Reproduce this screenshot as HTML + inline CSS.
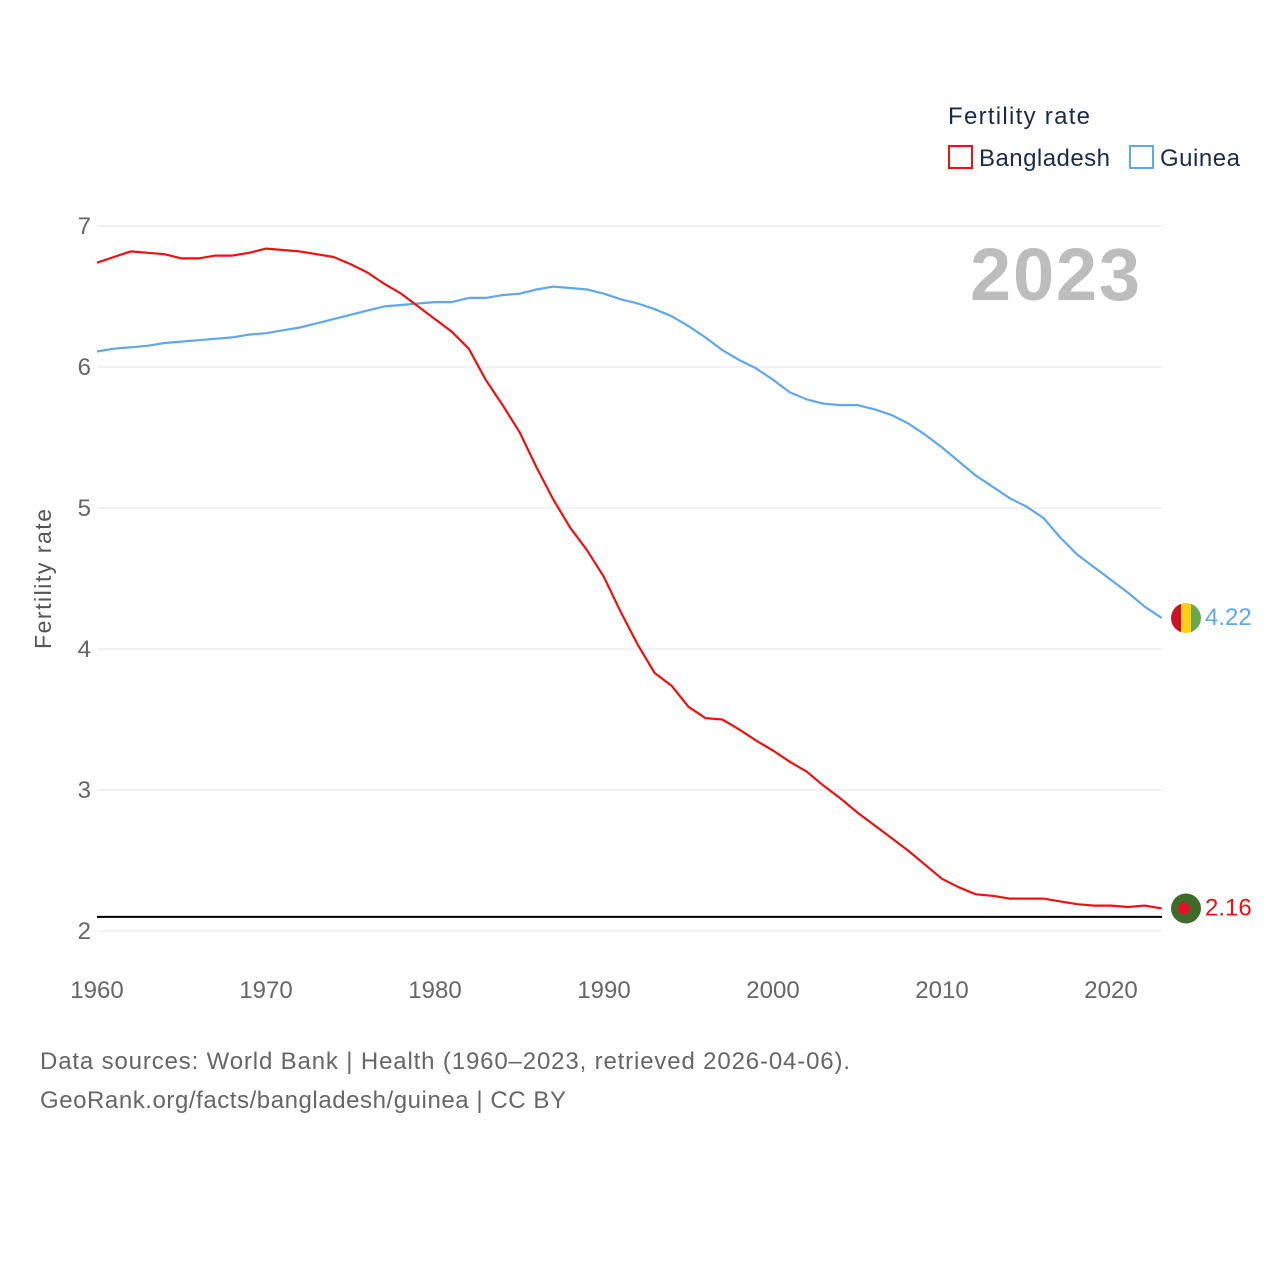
<!DOCTYPE html>
<html><head><meta charset="utf-8">
<style>
body{margin:0;background:#fff;font-family:"Liberation Sans",sans-serif;}
svg text{font-family:"Liberation Sans",sans-serif;}
</style></head>
<body>
<svg id="chart" width="1280" height="1280" viewBox="0 0 1280 1280" xmlns="http://www.w3.org/2000/svg">
<rect width="1280" height="1280" fill="#fff"/>
<text x="948" y="124" font-size="24" fill="#1a2b4a" textLength="142">Fertility rate</text>
<rect x="949" y="146" width="23" height="22" fill="none" stroke="#ee1111" stroke-width="2"/>
<text x="979" y="166" font-size="24" fill="#1a2b4a" textLength="131">Bangladesh</text>
<rect x="1130" y="146" width="23" height="22" fill="none" stroke="#5fa8ec" stroke-width="2"/>
<text x="1160" y="166" font-size="24" fill="#1a2b4a" textLength="80">Guinea</text>
<text x="1140" y="300" font-size="74" font-weight="bold" fill="#bdbdbd" text-anchor="end" textLength="170">2023</text>
<text transform="translate(51,579) rotate(-90)" font-size="23" fill="#555" text-anchor="middle" textLength="140">Fertility rate</text>
<g id="grid"></g>
<g id="lines"></g>
<text x="40" y="1069" font-size="24" fill="#666" textLength="810">Data sources: World Bank | Health (1960–2023, retrieved 2026-04-06).</text>
<text x="40" y="1108" font-size="24" fill="#666" textLength="526">GeoRank.org/facts/bangladesh/guinea | CC BY</text>
</svg>
<script>
const years=[];for(let y=1960;y<=2023;y++)years.push(y);
const bangladesh=[6.74,6.78,6.82,6.81,6.80,6.77,6.77,6.79,6.79,6.81,6.84,6.83,6.82,6.80,6.78,6.73,6.67,6.59,6.52,6.43,6.34,6.25,6.13,5.91,5.73,5.54,5.29,5.06,4.86,4.70,4.51,4.26,4.03,3.83,3.74,3.59,3.51,3.50,3.43,3.35,3.28,3.20,3.13,3.03,2.94,2.84,2.75,2.66,2.57,2.47,2.37,2.31,2.26,2.25,2.23,2.23,2.23,2.21,2.19,2.18,2.18,2.17,2.18,2.16];
const guinea=[6.11,6.13,6.14,6.15,6.17,6.18,6.19,6.20,6.21,6.23,6.24,6.26,6.28,6.31,6.34,6.37,6.40,6.43,6.44,6.45,6.46,6.46,6.49,6.49,6.51,6.52,6.55,6.57,6.56,6.55,6.52,6.48,6.45,6.41,6.36,6.29,6.21,6.12,6.05,5.99,5.91,5.82,5.77,5.74,5.73,5.73,5.70,5.66,5.60,5.52,5.43,5.33,5.23,5.15,5.07,5.01,4.93,4.79,4.67,4.58,4.49,4.40,4.30,4.22];
const yTicks=[2,3,4,5,6,7];
const xTicks=[1960,1970,1980,1990,2000,2010,2020];
const replacementRate=2.1;
const NS="http://www.w3.org/2000/svg";
const xs=y=>97+(y-1960)*(1014/60);
const ys=v=>931-(v-2)*141;
function mk(t,a,p){const e=document.createElementNS(NS,t);for(const k in a)e.setAttribute(k,a[k]);p.appendChild(e);return e;}
const grid=document.getElementById('grid'),lines=document.getElementById('lines');
yTicks.forEach(v=>{
 const l=mk('line',{x1:97,x2:1162,y1:ys(v),y2:ys(v),stroke:'#e6e6e6','stroke-width':1},grid);
 
 
 const t=mk('text',{x:91,y:ys(v)+8,'font-size':24,fill:'#666','text-anchor':'end'},grid);t.textContent=v;
 
 
});
xTicks.forEach(y=>{
 const t=mk('text',{x:xs(y),y:998,'font-size':24,fill:'#666','text-anchor':'middle'},grid);t.textContent=y;
 
 
});
const rl=mk('line',{x1:97,x2:1162,y1:ys(replacementRate),y2:ys(replacementRate),stroke:'#000','stroke-width':2},lines);


function series(vals,col,name){
 const d=vals.map((v,i)=>(i?'L':'M')+xs(years[i]).toFixed(1)+','+ys(v).toFixed(1)).join('');
 const p=mk('path',{d:d,fill:'none',stroke:col,'stroke-width':2.2,'stroke-linejoin':'round'},lines);
 
 
}
series(guinea,'#5fa8ec','guinea');
series(bangladesh,'#ee1111','bangladesh');
const lastG=guinea[guinea.length-1],lastB=bangladesh[bangladesh.length-1];
const gy=ys(lastG),cx=1186;
const defs=mk('defs',{},document.getElementById('chart'));
const cp=mk('clipPath',{id:'gc'},defs);mk('circle',{cx:cx,cy:gy,r:15},cp);
const gf=mk('g',{'clip-path':'url(#gc)'},lines);


mk('rect',{x:cx-15,y:gy-15,width:10,height:30,fill:'#ce1126'},gf);
mk('rect',{x:cx-5,y:gy-15,width:10,height:30,fill:'#fcd116'},gf);
mk('rect',{x:cx+5,y:gy-15,width:10,height:30,fill:'#6aa84f'},gf);
const gl=mk('text',{x:1205,y:gy+7,'font-size':24,fill:'#5fa8ec'},lines);gl.textContent=lastG.toFixed(2);


const by=ys(lastB);
const bf=mk('circle',{cx:cx,cy:by,r:15,fill:'#3f6b2a'},lines);


mk('circle',{cx:cx-2,cy:by,r:6,fill:'#e4112a'},lines);
const bl=mk('text',{x:1205,y:by+7,'font-size':24,fill:'#ee1111'},lines);bl.textContent=lastB.toFixed(2);


</script>
</body></html>
